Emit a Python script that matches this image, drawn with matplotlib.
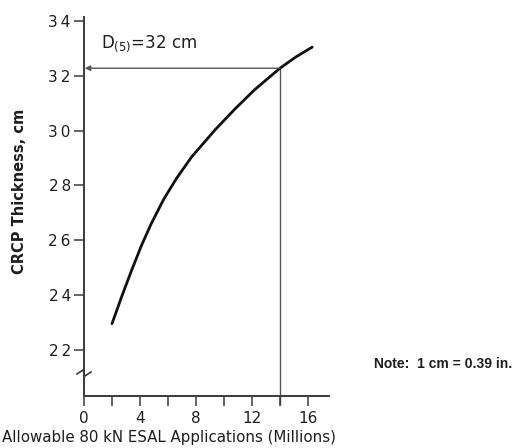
import matplotlib
matplotlib.use("Agg")
import matplotlib.pyplot as plt
from matplotlib.transforms import blended_transform_factory

# Allowable 80 kN ESAL applications (millions) vs. CRCP thickness (cm)
esal_millions = [2.0, 2.7, 3.4, 4.1, 4.8, 5.7, 6.6, 7.7, 9.4, 10.8, 12.2, 14.0, 15.1, 16.3]
thickness_cm = [22.95, 23.95, 24.9, 25.8, 26.6, 27.5, 28.25, 29.05, 30.05, 30.8, 31.5,
                32.28, 32.68, 33.05]

# Design read-off: 14 million applications -> D(5)
design_esal = 14.0
design_thickness = 32.28

x_ticks = [0, 2, 4, 6, 8, 10, 12, 14, 16]
x_tick_labels = ["0", "", "4", "", "8", "", "12", "", "16"]
y_ticks = [22, 24, 26, 28, 30, 32, 34]
y_tick_labels = ["2\u20092", "2\u20094", "2\u20096", "2\u20098", "3\u20090", "3\u20092", "3\u20094"]

axis_color = "#3a3a3a"
text_color = "#1e1e1e"
font = "DejaVu Sans"

fig = plt.figure(figsize=(5.30, 4.48), dpi=100)
ax = fig.add_axes([84 / 530, 52 / 448, 245 / 530, 379 / 448])

ax.plot(esal_millions, thickness_cm, color="#111111", lw=2.0,
        solid_capstyle="round", solid_joinstyle="round")

# Read-off lines: vertical from the axis up to the curve, arrow across to the thickness axis
ax.plot([design_esal, design_esal], [20.0, design_thickness], color="#555555", lw=1.0,
        clip_on=False, zorder=1)
ax.annotate("", xy=(0.05, design_thickness), xytext=(design_esal, design_thickness),
            arrowprops=dict(arrowstyle="-|>", color="#555555", lw=1.0,
                            mutation_scale=8, shrinkA=0, shrinkB=0))
ax.text(1.22, 33.02, r"D$_{(5)}$=32 cm", fontsize=12, family=font, color=text_color,
        ha="left", va="baseline")

ax.set_xlim(0, 17.5)
ax.set_ylim(20.31, 34.15)
ax.set_xticks(x_ticks)
ax.set_xticklabels(x_tick_labels)
ax.set_yticks(y_ticks)
ax.set_yticklabels(y_tick_labels)

for side in ("top", "right"):
    ax.spines[side].set_visible(False)
for side in ("left", "bottom"):
    ax.spines[side].set_color(axis_color)
    ax.spines[side].set_linewidth(1.4)

ax.tick_params(axis="both", direction="out", length=7, width=1.1, color=axis_color,
               labelsize=11, labelcolor=text_color)
ax.tick_params(axis="x", pad=4)
ax.tick_params(axis="y", pad=2.5)
for lbl in ax.get_xticklabels() + ax.get_yticklabels():
    lbl.set_family(font)

# Axis break mark on the thickness axis
brk = blended_transform_factory(ax.transAxes, ax.transData)
yb = 21.15
dx = 1 / 245
dy = 1 / 27.37
ax.plot([-7 * dx, -1 * dx, 1 * dx, 7 * dx],
        [yb - 1 * dy, yb + 3 * dy, yb - 3 * dy, yb + 1 * dy],
        transform=brk, color=axis_color, lw=1.2, clip_on=False)

fig.text(169 / 530, 1 - 437 / 448, "Allowable 80 kN ESAL Applications (Millions)",
         fontsize=10.8, family=font, color=text_color, ha="center", va="center")
fig.text(20 / 530, 1 - 191 / 448, "CRCP Thickness, cm", rotation=90,
         fontsize=10.5, family=font, weight="bold", color=text_color,
         ha="center", va="center")
fig.text(374 / 530, 1 - 364 / 448, "Note:  1 cm = 0.39 in.", fontsize=10,
         family="Liberation Sans", weight="bold", color=text_color, ha="left", va="center")

fig.savefig("out.png", dpi=100, facecolor="white")
